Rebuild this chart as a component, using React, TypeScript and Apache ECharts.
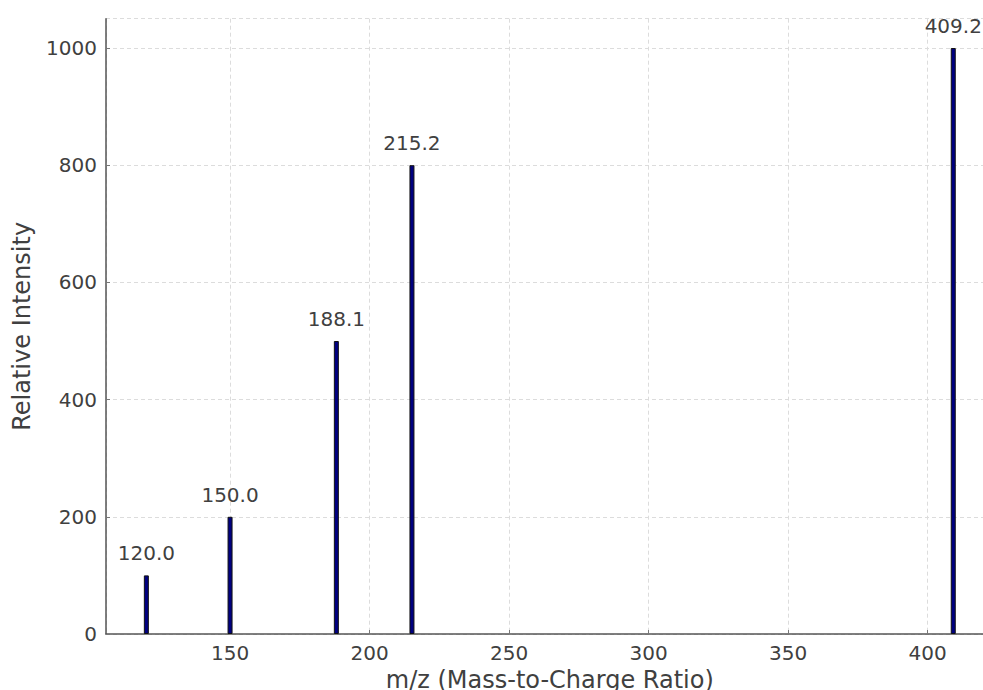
import React, { useEffect, useRef } from "react";
import * as echarts from "echarts";

const mzValues = [120.0, 150.0, 188.1, 215.2, 409.2];
const intensities = [100, 200, 500, 800, 1000];
const xAxisName = "m/z (Mass-to-Charge Ratio)";
const yAxisName = "Relative Intensity";

const FONT = "DejaVu Sans";
const TEXT = "#404040";

export default function App() {
  const ref = useRef<HTMLDivElement>(null);
  useEffect(() => {
    if (!ref.current) return;
    const chart = echarts.init(ref.current, null, { renderer: "svg" });
    const data = mzValues.map((m, i) => [m, intensities[i]]);
    chart.setOption({
      animation: false,
      backgroundColor: "#ffffff",
      textStyle: { fontFamily: FONT },
      grid: {
        left: 106,
        top: 18.7,
        width: 887.6,
        height: 615.3,
        outerBoundsMode: "none",
        containLabel: false,
      },
      xAxis: {
        type: "value",
        min: 105.54,
        max: 423.66,
        splitNumber: 5,
        name: xAxisName,
        nameLocation: "middle",
        nameGap: 33,
        nameTextStyle: { fontSize: 24, color: TEXT, fontFamily: FONT },
        axisLine: { show: true, lineStyle: { color: "#555555", width: 1.5 } },
        axisTick: { show: true, inside: true, length: 4, lineStyle: { color: "#777777" } },
        axisLabel: {
          fontSize: 20,
          color: TEXT,
          fontFamily: FONT,
          margin: 9,
          showMinLabel: false,
          showMaxLabel: false,
          formatter: (v: number) => String(v),
        },
        splitLine: { show: true, lineStyle: { color: "#dcdcdc", type: [4, 3], width: 1 } },
      },
      yAxis: {
        type: "value",
        min: 0,
        max: 1050,
        interval: 200,
        name: yAxisName,
        nameLocation: "middle",
        nameGap: 72,
        nameTextStyle: { fontSize: 24, color: TEXT, fontFamily: FONT },
        axisLine: { show: true, lineStyle: { color: "#555555", width: 1.5 } },
        axisTick: { show: true, inside: true, length: 4, lineStyle: { color: "#777777" } },
        axisLabel: {
          fontSize: 20,
          color: TEXT,
          fontFamily: FONT,
          margin: 9,
          showMaxLabel: false,
          formatter: (v: number) => String(v),
        },
        splitLine: { show: true, lineStyle: { color: "#dcdcdc", type: [4, 3], width: 1 } },
      },
      series: [
        {
          type: "bar",
          data,
          barWidth: 5,
          itemStyle: { color: "#000080", borderColor: "#111111", borderWidth: 1 },
          label: {
            show: true,
            position: "top",
            distance: 12,
            fontSize: 20,
            color: TEXT,
            fontFamily: FONT,
            formatter: (p: any) => Number(p.value[0]).toFixed(1),
          },
        },
      ],
    });
    return () => chart.dispose();
  }, []);
  return (
    <div
      ref={ref}
      style={{ position: "absolute", left: 0, top: 0, width: 983, height: 690 }}
    />
  );
}
